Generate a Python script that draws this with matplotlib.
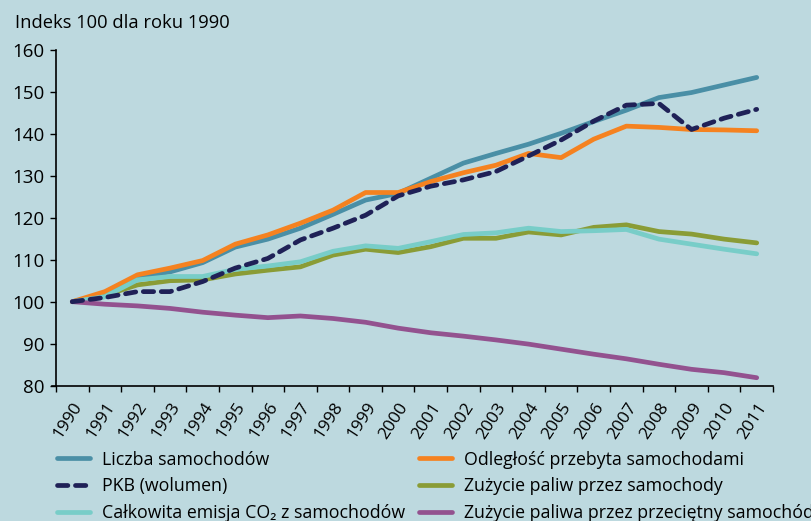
import matplotlib
matplotlib.use('Agg')
import matplotlib.pyplot as plt
from matplotlib.lines import Line2D

plt.rcParams['font.family'] = ['Open Sans', 'DejaVu Sans']

years = [str(y) for y in range(1990, 2012)]

liczba = [100, 101.2, 105.8, 107.1, 109.3, 113.0, 114.9, 117.5, 120.8, 124.2, 125.8,
          129.4, 133.0, 135.3, 137.5, 140.1, 142.9, 145.6, 148.6, 149.8, 151.6, 153.4]
odleglosc = [100, 102.4, 106.4, 108.0, 109.8, 113.7, 115.9, 118.7, 121.8, 126.0, 126.0,
             128.6, 130.7, 132.5, 135.3, 134.3, 138.7, 141.8, 141.5, 141.0, 140.9, 140.7]
pkb = [100, 101.0, 102.4, 102.4, 104.8, 108.0, 110.3, 114.7, 117.5, 120.6, 125.2,
       127.5, 129.0, 131.0, 134.7, 138.5, 143.0, 146.8, 147.2, 141.0, 143.7, 145.8]
paliwa = [100, 101.5, 104.0, 105.0, 105.2, 106.6, 107.5, 108.3, 111.1, 112.5, 111.7,
          113.1, 115.1, 115.1, 116.6, 115.9, 117.7, 118.3, 116.7, 116.1, 114.9, 114.0]
emisja = [100, 101.2, 105.2, 106.0, 106.0, 107.7, 108.5, 109.5, 112.0, 113.3, 112.7,
          114.3, 116.0, 116.4, 117.5, 116.7, 116.9, 117.2, 114.9, 113.7, 112.5, 111.4]
przecietny = [100, 99.4, 99.0, 98.4, 97.5, 96.8, 96.2, 96.6, 96.0, 95.1, 93.7,
              92.6, 91.8, 90.9, 89.9, 88.7, 87.5, 86.4, 85.1, 83.9, 83.1, 81.9]

bg = '#bdd9df'
c_liczba = '#4a8fa6'
c_odl = '#f58220'
c_pkb = '#1f2157'
c_pal = '#8a9c36'
c_emi = '#78cdc8'
c_prz = '#93528f'

fig = plt.figure(figsize=(8.12, 5.21), dpi=100, facecolor=bg)
ax = fig.add_axes([56 / 812, 1 - 385.7 / 521, (773 - 56) / 812, (385.7 - 49.7) / 521])
ax.set_facecolor(bg)

x = list(range(len(years)))
lw = 3.4
ax.plot(x, liczba, color=c_liczba, lw=lw, solid_capstyle='round', zorder=3)
ax.plot(x, odleglosc, color=c_odl, lw=lw, solid_capstyle='round', zorder=4)
ax.plot(x, paliwa, color=c_pal, lw=lw, solid_capstyle='round', zorder=3)
ax.plot(x, emisja, color=c_emi, lw=lw, solid_capstyle='round', zorder=4)
ax.plot(x, przecietny, color=c_prz, lw=lw, solid_capstyle='round', zorder=5)
ax.plot(x, pkb, color=c_pkb, lw=lw, dashes=(2.2, 1.6), dash_capstyle='round', zorder=6)

ax.set_ylim(80, 160)
ax.set_xlim(-0.5, len(years) - 0.5)
ax.set_yticks(range(80, 161, 10))
ax.tick_params(axis='y', labelsize=13.5, length=4, width=1, pad=4)
ax.set_xticks(x)
ax.set_xticklabels(years, rotation=57, ha='right', va='top', rotation_mode='anchor', fontsize=12.5)
ax.tick_params(axis='x', which='major', length=0, pad=10)
ax.set_xticks([i - 0.5 for i in range(len(years) + 1)], minor=True)
ax.tick_params(axis='x', which='minor', length=4, width=1)
for s in ['top', 'right']:
    ax.spines[s].set_visible(False)
for s in ['left', 'bottom']:
    ax.spines[s].set_linewidth(1.2)
ax.spines['bottom'].set_bounds(-0.62, len(years) - 0.5)

fig.text(15 / 812, 1 - 28 / 521, 'Indeks 100 dla roku 1990', fontsize=13.2, va='baseline')

def h(c, dashed=False):
    if dashed:
        return Line2D([], [], color=c, lw=lw, dashes=(2.2, 1.6), dash_capstyle='round')
    return Line2D([], [], color=c, lw=lw, solid_capstyle='round')

kw = dict(frameon=False, fontsize=12.8, handlelength=1.81, handletextpad=0.68,
          labelspacing=0.5, loc='upper left', borderaxespad=0, borderpad=0)
l1 = fig.legend([h(c_liczba), h(c_pkb, True), h(c_emi)],
                ['Liczba samochodów', 'PKB (wolumen)', 'Całkowita emisja CO₂ z samochodów'],
                bbox_to_anchor=(57.4 / 812, 1 - 450.6 / 521), **kw)
l2 = fig.legend([h(c_odl), h(c_pal), h(c_prz)],
                ['Odległość przebyta samochodami', 'Zużycie paliw przez samochody',
                 'Zużycie paliwa przez przeciętny samochód'],
                bbox_to_anchor=(419.4 / 812, 1 - 450.6 / 521), **kw)

fig.savefig('out.png', dpi=100, facecolor=bg)
